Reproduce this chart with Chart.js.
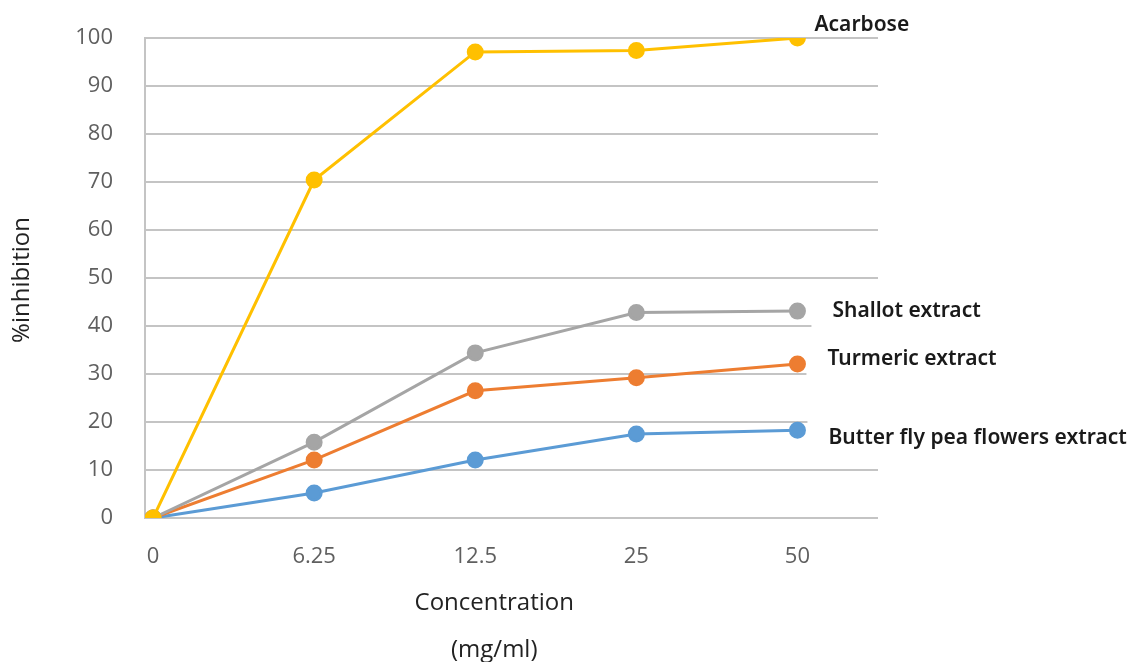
<!DOCTYPE html>
<html>
<head>
<meta charset="utf-8">
<script src="https://cdn.jsdelivr.net/npm/chart.js@4/dist/chart.umd.min.js"></script>
<style>
  html, body { margin: 0; padding: 0; background: #fff; }
  #wrap { width: 1133px; height: 662px; position: relative; }
</style>
</head>
<body>
<div id="wrap"><canvas id="c" width="1133" height="662"></canvas></div>
<script>
// Concentration levels (mg/ml) shown along the x axis
const concentrations = ['0', '6.25', '12.5', '25', '50'];

// % inhibition for each sample
const acarbose   = [0, 70.4, 97.1, 97.4, 100];
const shallot    = [0, 15.8, 34.4, 42.8, 43.1];
const turmeric   = [0, 12.1, 26.5, 29.2, 32.1];
const butterfly  = [0, 5.2, 12.1, 17.5, 18.3];

const seriesNames = ['Acarbose', 'Shallot extract', 'Turmeric extract', 'Butter fly pea flowers extract'];
const yTicks = [0, 10, 20, 30, 40, 50, 60, 70, 80, 90, 100];

const toPoints = arr => arr.map((v, i) => ({ x: i, y: v }));

// end-of-line label placement (pixel offsets from the last point)
const labelStyle = [
  { dx: 17, dy: -13, box: false },
  { dx: 35, dy: 0,   box: true },
  { dx: 30, dy: -5,  box: true },
  { dx: 31, dy: 8,   box: true }
];

const labelFont = '600 21px "Noto Sans"';

const endLabels = {
  id: 'endLabels',
  beforeDatasetsDraw(chart) {
    const ctx = chart.ctx;
    ctx.save();
    chart.data.datasets.forEach((ds, i) => {
      const st = labelStyle[i];
      if (!st.box) return;
      const meta = chart.getDatasetMeta(i);
      const p = meta.data[meta.data.length - 1];
      const x = p.x + st.dx, y = p.y + st.dy;
      ctx.fillStyle = '#ffffff';
      ctx.fillRect(x - 21, y - 18, chart.width - (x - 21), 36);
    });
    ctx.restore();
  },
  afterDraw(chart) {
    const ctx = chart.ctx;
    ctx.save();
    ctx.font = labelFont;
    ctx.fillStyle = '#1a1a1a';
    ctx.textBaseline = 'middle';
    ctx.textAlign = 'left';
    chart.data.datasets.forEach((ds, i) => {
      const st = labelStyle[i];
      const meta = chart.getDatasetMeta(i);
      const p = meta.data[meta.data.length - 1];
      ctx.fillText(ds.label, p.x + st.dx, p.y + st.dy);
    });

    // axis titles
    ctx.font = '400 24px "Open Sans"';
    ctx.fillStyle = '#222222';
    ctx.textAlign = 'center';
    const xs = chart.scales.x;
    const cx = xs.getPixelForValue(2) + 19;
    ctx.fillText('Concentration', cx, 603);
    ctx.fillText('(mg/ml)', cx, 650);
    ctx.translate(22, 280);
    ctx.rotate(-Math.PI / 2);
    ctx.fillText('%inhibition', 0, 0);
    ctx.restore();
  }
};

const colors = ['#FFC000', '#A5A5A5', '#ED7D31', '#5B9BD5'];
const values = [acarbose, shallot, turmeric, butterfly];

new Chart(document.getElementById('c'), {
  type: 'line',
  data: {
    datasets: values.map((v, i) => ({
      label: seriesNames[i],
      data: toPoints(v),
      borderColor: colors[i],
      backgroundColor: colors[i],
      pointBackgroundColor: colors[i],
      pointBorderColor: colors[i],
      borderWidth: 3,
      pointRadius: 7,
      pointHoverRadius: 7,
      tension: 0,
      fill: false
    }))
  },
  options: {
    responsive: false,
    animation: false,
    events: [],
    layout: { padding: { top: 38, right: 255, left: 0, bottom: 0 } },
    plugins: { legend: { display: false }, tooltip: { enabled: false }, title: { display: false } },
    scales: {
      x: {
        type: 'linear',
        min: -0.05,
        max: 4.5,
        afterBuildTicks: s => { s.ticks = concentrations.map((_, i) => ({ value: i })); },
        afterFit: s => { s.height = 144; s.paddingLeft = 0; s.paddingRight = 0; },
        grid: { display: false, drawTicks: false },
        border: { display: false },
        ticks: {
          padding: 26,
          color: '#5f5f5f',
          font: { family: '"Open Sans"', size: 22 },
          callback: v => concentrations[v],
          maxRotation: 0
        }
      },
      y: {
        min: 0,
        max: 100,
        afterBuildTicks: s => { s.ticks = yTicks.map(v => ({ value: v })); },
        afterFit: s => { s.width = 145; s.paddingTop = 0; s.paddingBottom = 0; },
        grid: { color: '#c4c4c4', lineWidth: 2, drawTicks: false },
        border: { display: true, color: '#c4c4c4', width: 2 },
        ticks: {
          padding: 32,
          color: '#5f5f5f',
          font: { family: '"Open Sans"', size: 22 }
        }
      }
    }
  },
  plugins: [endLabels]
});
</script>
</body>
</html>
